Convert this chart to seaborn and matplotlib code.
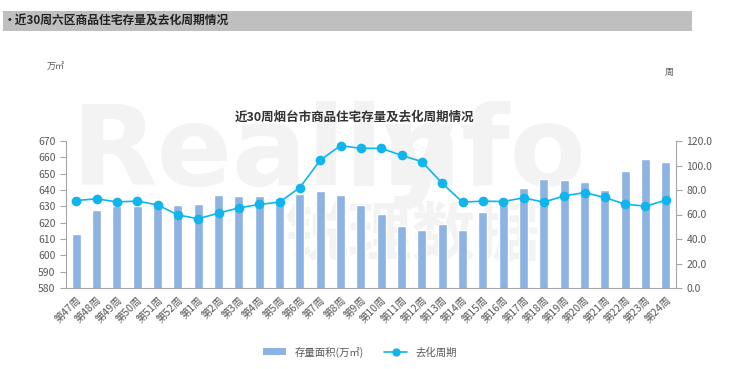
import numpy as np
import pandas as pd
import matplotlib
matplotlib.use("Agg")
import matplotlib.pyplot as plt
from matplotlib.patches import Rectangle
from matplotlib.lines import Line2D
from matplotlib.ticker import FormatStrFormatter
import seaborn as sns

# ==================== DATA ====================

weeks = ["第47周", "第48周", "第49周", "第50周", "第51周", "第52周"] + \
        [f"第{i}周" for i in range(1, 25)]

# 存量面积 (万㎡)
stock = [612.8, 627.6, 630.1, 630.5, 630.3, 631.1, 631.7, 637.2, 636.2, 636.2,
         635.2, 637.8, 639.2, 637.2, 631.1, 625.5, 617.9, 615.8, 619.3, 615.4,
         626.6, 630.9, 641.3, 646.8, 646.2, 644.8, 640.1, 651.9, 659.0, 657.0]

# 去化周期 (周)
cycle = [71.4, 72.8, 70.3, 70.9, 67.9, 59.7, 56.5, 61.1, 65.4, 68.2,
         70.1, 82.0, 104.3, 116.2, 114.0, 114.0, 108.3, 103.2, 85.5, 70.1,
         70.9, 70.6, 73.6, 70.1, 75.2, 77.9, 73.9, 68.4, 66.8, 71.7]

BAR_COLOR = "#8DB3E2"
LINE_COLOR = "#11B5EE"
TEXT_COLOR = "#595959"
MARK_COLOR = "#f3f3f3"

df = pd.DataFrame({"week": weeks, "stock": stock, "cycle": cycle})
df["pos"] = range(len(df))

# ==================== STYLE ====================

sns.set_style("white")
plt.rcParams["font.family"] = ["Noto Sans CJK SC", "DejaVu Sans"]

fig = plt.figure(figsize=(7.4, 3.69), dpi=100)

# header bar
fig.patches.append(Rectangle((3 / 740, 1 - 31 / 369), 689 / 740, 20 / 369,
                             transform=fig.transFigure, facecolor="#BFBFBF",
                             edgecolor="none", zorder=0))
fig.text(4 / 740, 1 - 21 / 369, "·近30周六区商品住宅存量及去化周期情况",
         fontsize=8.5, fontweight="bold", color="#222222", va="center")

# faint watermark on a background axes, drawn under the chart
bg = fig.add_axes([0, 0, 1, 1], zorder=-5)
bg.set_axis_off()
bg.set_xlim(0, 740)
bg.set_ylim(369, 0)
bg.text(72, 185, "Really", fontsize=80, color=MARK_COLOR, fontweight="bold",
        family="DejaVu Sans", va="baseline")
bg.text(345, 185, "info", fontsize=80, color=MARK_COLOR, fontweight="bold",
        family="DejaVu Sans", va="baseline")
bg.text(285, 255, "锐理数据", fontsize=46, color=MARK_COLOR,
        fontweight="bold", va="baseline")

ax = fig.add_axes([66 / 740, (369 - 288) / 369, 610 / 740, 147 / 369])
ax.set_facecolor("none")

# ==================== BARS ====================

sns.barplot(data=df, x="pos", y="stock", ax=ax, color=BAR_COLOR,
            width=0.45, saturation=1, zorder=2)
ax.set_ylim(580, 670)
ax.set_yticks(np.arange(580, 671, 10))
ax.set_xlim(-0.5, len(weeks) - 0.5)
ax.set_xticks(range(len(weeks)))
ax.set_xticklabels(weeks, rotation=45, ha="right", rotation_mode="anchor",
                   fontsize=7.5, color=TEXT_COLOR)
ax.set_xlabel("")
ax.set_ylabel("")

# ==================== LINE ====================

ax2 = ax.twinx()
ax2.set_facecolor("none")
sns.lineplot(data=df, x="pos", y="cycle", ax=ax2, color=LINE_COLOR,
             linewidth=1.2, marker="o", markersize=7, markeredgewidth=0,
             zorder=3)
ax2.set_ylim(0, 120)
ax2.set_yticks(np.arange(0, 121, 20))
ax2.yaxis.set_major_formatter(FormatStrFormatter("%.1f"))
ax2.set_xlim(-0.5, len(weeks) - 0.5)
ax2.set_xlabel("")
ax2.set_ylabel("")

for a in (ax, ax2):
    a.tick_params(axis="both", labelsize=7.5, labelcolor=TEXT_COLOR,
                  color="#A6A6A6", length=4, width=0.8, direction="out")
    for side in ("left", "right", "bottom", "top"):
        a.spines[side].set_color("#A6A6A6")
        a.spines[side].set_linewidth(0.8)
    a.spines["top"].set_visible(False)
ax.tick_params(axis="x", length=4, pad=1)
ax.tick_params(axis="y", left=True, length=4)
ax.spines["right"].set_visible(False)
ax2.spines["left"].set_visible(False)
ax2.spines["bottom"].set_visible(False)
ax2.tick_params(axis="y", right=True)

# ==================== TEXT ====================

fig.text(355 / 740, 1 - 117 / 369, "近30周烟台市商品住宅存量及去化周期情况",
         fontsize=9, fontweight="bold", color="#333333", ha="center",
         va="center")
fig.text(47 / 740, 1 - 67 / 369, "万㎡", fontsize=6.5, color=TEXT_COLOR,
         va="center")
fig.text(665 / 740, 1 - 72 / 369, "周", fontsize=6.5, color=TEXT_COLOR,
         va="center")

handles = [Rectangle((0, 0), 1, 1, facecolor=BAR_COLOR, edgecolor="none"),
           Line2D([0], [0], color=LINE_COLOR, marker="o", markersize=6,
                  markeredgewidth=0, linewidth=1.2)]
fig.legend(handles, ["存量面积(万㎡)", "去化周期"], loc="center",
           bbox_to_anchor=(360 / 740, 1 - 352 / 369), ncol=2, frameon=False,
           fontsize=7.5, labelcolor=TEXT_COLOR, handlelength=2.2,
           handleheight=0.6, columnspacing=2.0)

fig.savefig("out.png", dpi=100)
